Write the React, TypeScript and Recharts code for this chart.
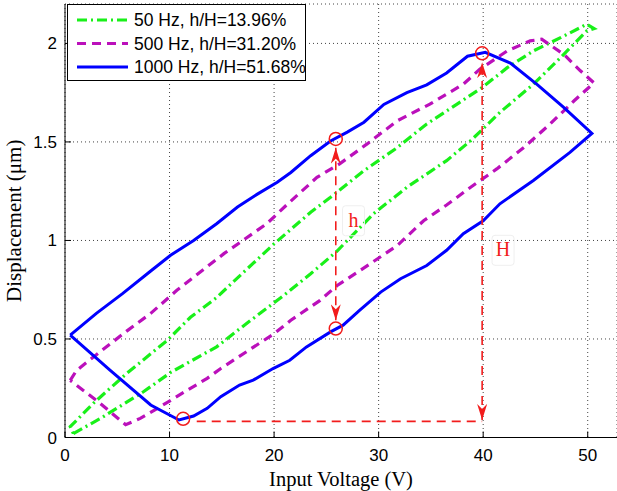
import { ComposedChart, Line, XAxis, YAxis, CartesianGrid, ReferenceDot, Legend } from 'recharts';

// 50 Hz loop (voltage V, displacement um), traced around the loop
const hz50V = [0.8, 3.4, 7.5, 10.1, 14.5, 17.4, 20.9, 23.5, 26.0, 29.5, 32.7, 36.5, 38.8, 41.6, 44.8, 47.4, 49.9, 50.6, 49.9, 47.4, 44.8, 42.3, 40.0, 37.5, 34.6, 31.8, 28.6, 25.4, 23.5, 20.0, 16.1, 14.5, 12.0, 9.8, 5.9, 2.7, 0.5, 0.8];
const hz50D = [0.02, 0.097, 0.232, 0.33, 0.46, 0.58, 0.72, 0.831, 0.945, 1.135, 1.27, 1.405, 1.506, 1.65, 1.793, 1.928, 2.063, 2.075, 2.097, 2.029, 1.962, 1.877, 1.78, 1.692, 1.591, 1.472, 1.354, 1.219, 1.143, 0.983, 0.79, 0.71, 0.61, 0.494, 0.325, 0.173, 0.055, 0.02];

// 500 Hz loop
const hz500V = [0.5, 1.1, 3.0, 5.9, 8.2, 10.7, 15.2, 19.3, 21.6, 24.1, 26.3, 28.9, 31.8, 34.9, 38.1, 39.7, 42.3, 44.5, 45.6, 47.7, 49.3, 50.6, 48.7, 46.4, 43.9, 41.3, 38.8, 36.5, 34.3, 31.8, 29.2, 26.0, 24.4, 21.6, 20.0, 14.9, 13.6, 11.7, 9.1, 7.2, 5.8, 3.2, 0.5];
const hz500D = [0.29, 0.34, 0.42, 0.54, 0.63, 0.747, 0.933, 1.085, 1.2, 1.32, 1.39, 1.49, 1.608, 1.692, 1.793, 1.87, 1.962, 2.013, 2.021, 1.945, 1.861, 1.8, 1.709, 1.591, 1.472, 1.363, 1.27, 1.18, 1.1, 0.975, 0.882, 0.77, 0.696, 0.595, 0.527, 0.35, 0.3, 0.24, 0.156, 0.097, 0.065, 0.18, 0.29];

// 1000 Hz loop
const hz1000V = [0.5, 3.0, 5.5, 8.2, 10.1, 12.3, 14.5, 16.5, 18.4, 20.3, 21.6, 23.5, 25.4, 27.0, 28.6, 30.5, 32.7, 34.6, 36.5, 38.5, 40.2, 42.6, 45.2, 47.7, 50.4, 48.3, 44.8, 41.6, 40.0, 38.1, 36.5, 34.6, 32.1, 30.2, 28.2, 26.6, 25.4, 23.1, 21.5, 19.9, 18.0, 16.7, 14.9, 13.6, 12.3, 10.9, 8.2, 4.3, 0.5];
const hz1000D = [0.52, 0.63, 0.73, 0.845, 0.925, 1.0, 1.085, 1.17, 1.235, 1.295, 1.345, 1.43, 1.505, 1.55, 1.6, 1.69, 1.75, 1.79, 1.85, 1.935, 1.955, 1.9, 1.79, 1.675, 1.543, 1.447, 1.304, 1.186, 1.1, 1.034, 0.95, 0.873, 0.806, 0.738, 0.646, 0.57, 0.536, 0.46, 0.392, 0.35, 0.291, 0.266, 0.207, 0.148, 0.109, 0.089, 0.165, 0.342, 0.52];

const seriesNames = ['50 Hz, h/H=13.96%', '500 Hz, h/H=31.20%', '1000 Hz, h/H=51.68%'];

// red annotations
const circleV = [11.3, 25.9, 25.9, 39.9];
const circleD = [0.095, 1.515, 0.553, 1.95];
const hArrowV = [25.9, 25.9];
const hArrowD = [0.595, 1.47];
const bigHArrowV = [39.9, 39.9];
const bigHArrowD = [0.089, 1.905];
const baseV = [12.6, 39.9];
const baseD = [0.082, 0.082];
const labelText = ['h', 'H'];
const labelV = [27.6, 41.9];
const labelD = [1.1, 0.95];

const xTicks = [0, 10, 20, 30, 40, 50];
const yTicks = [0, 0.5, 1, 1.5, 2];

const toRows = (xs: number[], ys: number[]) => xs.map((x, i) => ({ x, y: ys[i] }));

const styles = [
  { color: '#19f019', width: 3.2, dash: '10 4 2 4' },
  { color: '#bb10bb', width: 3.2, dash: '9 6' },
  { color: '#0000ff', width: 3, dash: undefined },
];

const SANS = '"Liberation Sans", Arial, Helvetica, sans-serif';
const SERIF = '"Liberation Serif", "Times New Roman", serif';
const RED = '#f21c1c';

const BottomTick = (props: any) => {
  const { x, y, payload } = props;
  return (
    <g>
      <line x1={x} x2={x} y1={y} y2={y - 6} stroke="#000" />
      <text x={x} y={y + 23} textAnchor="middle" fontSize={17} fontFamily={SANS} fill="#000">
        {payload.value}
      </text>
    </g>
  );
};

const LeftTick = (props: any) => {
  const { x, y, payload } = props;
  return (
    <g>
      <line x1={x} x2={x + 6} y1={y} y2={y} stroke="#000" />
      <text x={x - 8} y={y + 6} textAnchor="end" fontSize={17} fontFamily={SANS} fill="#000">
        {payload.value}
      </text>
    </g>
  );
};

const TopTick = (props: any) => {
  const { x, y } = props;
  return <line x1={x} x2={x} y1={y} y2={y + 6} stroke="#000" />;
};

const RightTick = (props: any) => {
  const { x, y } = props;
  return <line x1={x - 6} x2={x} y1={y} y2={y} stroke="#000" />;
};

const LegendBox = () => (
  <div style={{ width: 239, height: 77, border: '1.2px solid #000', background: '#fff', boxSizing: 'border-box' }}>
    <svg width={237} height={75} style={{ display: 'block' }}>
      {seriesNames.map((name, i) => {
        const cy = 15 + i * 23.5;
        return (
          <g key={name}>
            <line x1={9} x2={60} y1={cy} y2={cy} stroke={styles[i].color} strokeWidth={styles[i].width} strokeDasharray={styles[i].dash} />
            <text x={66} y={cy + 6} fontSize={17.5} fontFamily={SANS} fill="#000">
              {name}
            </text>
          </g>
        );
      })}
    </svg>
  </div>
);

const TextMark = (text: string) => (props: any) => {
  const { cx, cy } = props;
  return (
    <g>
      <rect x={cx - 11} y={cy - 15} width={22} height={30} rx={3} fill="none" stroke="#efefef" />
      <text x={cx} y={cy + 6} textAnchor="middle" fontSize={20} fontFamily={SERIF} fill={RED}>
        {text}
      </text>
    </g>
  );
};

export default function App() {
  const loops = [toRows(hz50V, hz50D), toRows(hz500V, hz500D), toRows(hz1000V, hz1000D)];
  const arrowProps = {
    stroke: RED,
    strokeWidth: 1.6,
    strokeDasharray: '9 6',
    dot: false,
    activeDot: false,
    isAnimationActive: false,
    type: 'linear' as const,
    dataKey: 'y',
    markerStart: 'url(#arrowHead)',
    markerEnd: 'url(#arrowHead)',
  };

  return (
    <div style={{ position: 'absolute', left: 0, top: 0, width: 617, height: 491, background: '#fff' }}>
      <ComposedChart width={617} height={491} margin={{ top: 4, right: 0, bottom: 0, left: 0 }}>
        <defs>
          <marker id="arrowHead" viewBox="0 0 16 10" refX={16} refY={5} markerWidth={16} markerHeight={10} markerUnits="userSpaceOnUse" orient="auto-start-reverse">
            <path d="M0,0 L16,5 L0,10 L5,5 Z" fill={RED} />
          </marker>
        </defs>
        <CartesianGrid stroke="#444" strokeDasharray="1 3" />
        <XAxis
          type="number"
          dataKey="x"
          domain={[0, 52.8]}
          ticks={xTicks}
          interval={0}
          allowDataOverflow
          height={53.5}
          tickSize={0}
          tickMargin={0}
          tickLine={false}
          axisLine={{ stroke: '#000' }}
          tick={<BottomTick />}
          label={{ value: 'Input Voltage (V)', position: 'insideBottom', offset: 5, style: { fontFamily: SERIF, fontSize: 20.5, fill: '#000' } }}
        />
        <XAxis
          xAxisId="top"
          orientation="top"
          type="number"
          domain={[0, 52.8]}
          ticks={xTicks}
          interval={0}
          allowDataOverflow
          height={0}
          tickSize={0}
          tickMargin={0}
          tickLine={false}
          axisLine={{ stroke: '#000' }}
          tick={<TopTick />}
        />
        <YAxis
          type="number"
          domain={[0, 2.2]}
          ticks={yTicks}
          interval={0}
          allowDataOverflow
          width={65}
          tickSize={0}
          tickMargin={0}
          tickLine={false}
          axisLine={{ stroke: '#000' }}
          tick={<LeftTick />}
          label={{ value: 'Displacement (μm)', angle: -90, position: 'insideLeft', offset: 14, style: { textAnchor: 'middle', fontFamily: SERIF, fontSize: 21, fill: '#000' } }}
        />
        <YAxis
          yAxisId="right"
          orientation="right"
          type="number"
          domain={[0, 2.2]}
          ticks={yTicks}
          interval={0}
          allowDataOverflow
          width={0}
          tickSize={0}
          tickMargin={0}
          tickLine={false}
          axisLine={{ stroke: '#000' }}
          tick={<RightTick />}
        />
        <Legend layout="vertical" align="center" verticalAlign="middle" wrapperStyle={{ top: 4, left: 67, width: 239 }} content={<LegendBox />} />

        {loops.map((rows, i) => (
          <Line
            key={seriesNames[i]}
            name={seriesNames[i]}
            data={rows}
            dataKey="y"
            type="linear"
            stroke={styles[i].color}
            strokeWidth={styles[i].width}
            strokeDasharray={styles[i].dash}
            dot={false}
            activeDot={false}
            isAnimationActive={false}
          />
        ))}

        <Line {...arrowProps} data={toRows(baseV, baseD)} markerStart={undefined} markerEnd={undefined} />
        <Line {...arrowProps} data={toRows(hArrowV, hArrowD)} />
        <Line {...arrowProps} data={toRows(bigHArrowV, bigHArrowD)} />

        {circleV.map((v, i) => (
          <ReferenceDot key={`c${i}`} x={v} y={circleD[i]} r={6.5} fill="none" stroke={RED} strokeWidth={1.5} />
        ))}
        {labelText.map((t, i) => (
          <ReferenceDot key={t} x={labelV[i]} y={labelD[i]} r={0} shape={TextMark(t)} />
        ))}
      </ComposedChart>
    </div>
  );
}
